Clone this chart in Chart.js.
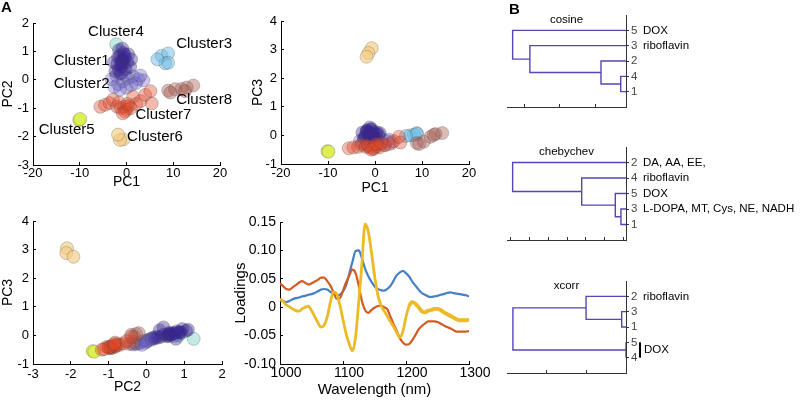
<!DOCTYPE html>
<html>
<head>
<meta charset="utf-8">
<script src="https://cdn.jsdelivr.net/npm/chart.js@4.4.1/dist/chart.umd.min.js"></script>
<style>
  html, body { margin: 0; padding: 0; background: #fff; }
  #fig { position: relative; width: 800px; height: 400px; overflow: hidden; }
  #fig canvas { position: absolute; }
  .tag { position: absolute; font: bold 15px "Liberation Sans", Arial, sans-serif; color: #000; }
</style>
</head>
<body>
<div id="fig">
  <canvas id="pc12" width="235" height="191" style="left:0;top:0"></canvas>
  <canvas id="pc13" width="235" height="197" style="left:250px;top:0"></canvas>
  <canvas id="pc23" width="237" height="206" style="left:0;top:190px"></canvas>
  <canvas id="load" width="259" height="209" style="left:232px;top:190px"></canvas>
  <canvas id="dCos" width="310" height="120" style="left:490px;top:0"></canvas>
  <canvas id="dCheb" width="310" height="123" style="left:490px;top:130px"></canvas>
  <canvas id="dXcorr" width="310" height="124" style="left:490px;top:262px"></canvas>
  <div class="tag" style="left:1px;top:-2px">A</div>
  <div class="tag" style="left:509px;top:0">B</div>
</div>
<script>
// PCA scores, one row per sample: [PC1, PC2, PC3]
const cluster1 = [
  [-1.0, 0.65, 0.02], [-0.8, 0.72, 0.05], [-1.2, 0.58, -0.02], [-0.6, 0.60, 0.04],
  [-1.4, 0.85, 0.10], [-0.4, 0.88, 0.12], [-1.6, 1.05, 0.16], [-0.9, 1.10, 0.20],
  [-2.0, 0.55, -0.03], [0.2, 0.62, 0.05], [-2.4, 0.30, -0.08], [-1.8, 0.80, 0.14],
  [-0.2, 0.38, -0.05], [0.8, 0.45, 0.02], [-2.7, 0.62, 0.10], [-1.3, 0.22, -0.10],
  [-0.7, 0.95, 0.22], [1.0, 0.72, 0.08], [-1.1, 0.45, 0.28], [-0.3, 0.78, -0.12],
  [-1.7, 0.35, 0.18], [0.4, 0.90, 0.10]
];
const cluster2 = [
  [-2.6, -0.25, -0.28], [-1.8, -0.15, -0.22], [-0.8, -0.05, -0.18], [0.3, 0.05, -0.15],
  [1.4, 0.12, -0.12], [2.5, 0.02, -0.20], [3.6, -0.02, -0.26], [-2.2, 0.15, -0.10],
  [-1.0, 0.25, -0.05], [0.0, -0.28, -0.30], [1.0, -0.18, -0.28], [-3.2, 0.02, -0.20],
  [2.0, -0.12, -0.33], [-1.4, -0.35, -0.32], [-0.3, 0.18, -0.08], [3.0, 0.15, -0.15]
];
const cluster3 = [
  [7.5, 0.85, 0.00], [8.9, 0.93, 0.08], [8.3, 0.58, 0.02], [8.9, 0.60, 0.05], [6.6, 0.72, -0.02]
];
const cluster4 = [[-2.2, 1.25, -0.12]];
const cluster5 = [[-10.1, -1.42, -0.55], [-9.9, -1.38, -0.57]];
const cluster6 = [[-0.7, -2.10, 3.05], [-1.4, -2.12, 2.88], [-1.8, -1.93, 2.75]];
const cluster7 = [
  [-5.6, -0.95, -0.45], [-4.6, -0.88, -0.42], [-3.6, -0.82, -0.40], [-2.9, -0.70, -0.33],
  [-2.0, -0.95, -0.40], [-1.2, -1.00, -0.42], [-0.5, -0.95, -0.45], [0.0, -1.05, -0.40],
  [0.5, -0.92, -0.38], [-0.3, -1.12, -0.48], [1.4, -0.60, -0.28], [2.1, -0.85, -0.35],
  [3.0, -0.75, -0.30], [4.0, -0.53, -0.20], [5.4, -0.83, -0.25], [5.1, -0.40, -0.05],
  [-1.6, -0.80, -0.35], [0.9, -1.00, -0.42], [-0.8, -1.18, -0.50], [0.2, -0.85, -0.30]
];
const cluster8 = [
  [8.9, -0.38, -0.27], [10.4, -0.33, -0.22], [11.8, -0.32, -0.05], [12.9, -0.27, 0.05],
  [14.3, -0.20, 0.08], [9.4, -0.45, -0.30], [12.5, -0.40, 0.02]
];

const clusterNames = ['Cluster1', 'Cluster2', 'Cluster3', 'Cluster4', 'Cluster5', 'Cluster6', 'Cluster7', 'Cluster8'];
// label centres in PC1/PC2 units
const clusterTagAt = [[-9.6, 0.66], [-9.6, -0.16], [16.6, 1.25], [-2.25, 1.69], [-12.8, -1.77], [6.1, -2.02], [7.9, -1.24], [16.6, -0.69]];

// loadings
const wavelength = [
  1000, 1005, 1010, 1015, 1020, 1025, 1030, 1035, 1040, 1045, 1050, 1055, 1060, 1065, 1070, 1075,
  1080, 1085, 1090, 1095, 1100, 1105, 1110, 1115, 1120, 1125, 1130, 1135, 1140, 1145, 1150, 1155,
  1160, 1165, 1170, 1175, 1180, 1185, 1190, 1195, 1200, 1205, 1210, 1215, 1220, 1225, 1230, 1235,
  1240, 1245, 1250, 1255, 1260, 1265, 1270, 1275, 1280, 1285, 1290, 1295, 1300
];
const loadPC1 = [
  0.012, 0.011, 0.009, 0.011, 0.014, 0.016, 0.017, 0.019, 0.020, 0.022, 0.023, 0.025, 0.028, 0.031, 0.032, 0.031,
  0.027, 0.023, 0.021, 0.022, 0.028, 0.039, 0.059, 0.080, 0.099, 0.100, 0.086, 0.068, 0.055, 0.045, 0.037, 0.032,
  0.030, 0.029, 0.032, 0.037, 0.046, 0.056, 0.061, 0.064, 0.060, 0.054, 0.045, 0.038, 0.031, 0.025, 0.022, 0.019,
  0.018, 0.019, 0.020, 0.022, 0.023, 0.025, 0.026, 0.025, 0.024, 0.023, 0.022, 0.021, 0.019
];
const loadPC2 = [
  0.042, 0.037, 0.032, 0.031, 0.035, 0.039, 0.043, 0.046, 0.043, 0.040, 0.042, 0.045, 0.048, 0.052, 0.052, 0.046,
  0.038, 0.026, 0.015, 0.016, 0.029, 0.044, 0.056, 0.066, 0.060, 0.038, 0.011, -0.005, -0.010, -0.005, -0.001, 0.002,
  0.003, 0.000, -0.003, -0.016, -0.029, -0.041, -0.054, -0.062, -0.066, -0.065, -0.058, -0.049, -0.039, -0.033, -0.029, -0.025,
  -0.025, -0.025, -0.026, -0.029, -0.032, -0.035, -0.037, -0.040, -0.043, -0.043, -0.043, -0.043, -0.042
];
const loadPC3 = [
  0.015, 0.010, 0.004, 0.001, -0.003, -0.006, -0.007, -0.003, 0.000, 0.002, -0.006, -0.016, -0.027, -0.035, -0.032, -0.017,
  0.009, 0.027, 0.023, 0.004, -0.022, -0.047, -0.065, -0.077, -0.052, 0.010, 0.076, 0.146, 0.134, 0.098, 0.056, 0.023,
  0.004, -0.006, -0.015, -0.025, -0.034, -0.044, -0.053, -0.043, -0.017, 0.002, 0.009, 0.006, 0.000, -0.007, -0.009, -0.006,
  -0.005, -0.003, -0.003, -0.005, -0.009, -0.012, -0.015, -0.018, -0.021, -0.023, -0.023, -0.023, -0.022
];

// dendrograms: leaf order top to bottom, links [a, b, height] (new node ids start at n+1)
const cosineLeaves = [5, 3, 2, 4, 1];
const cosineLinks = [[4, 1, 0.027], [2, 6, 0.083], [3, 7, 0.285], [5, 8, 0.334]];
const cosineNotes = [[5, 'DOX'], [3, 'riboflavin']];

const chebLeaves = [2, 4, 5, 3, 1];
const chebLinks = [[3, 1, 0.113], [5, 6, 0.143], [4, 7, 0.322], [2, 8, 0.690]];
const chebNotes = [[2, 'DA, AA, EE,'], [4, 'riboflavin'], [5, 'DOX'], [3, 'L-DOPA, MT, Cys, NE, NADH']];

const xcorrLeaves = [2, 3, 1, 5, 4];
const xcorrLinks = [[3, 1, 0.054], [2, 6, 0.5], [5, 4, 0], [7, 8, 1.416]];
const xcorrNotes = [[2, 'riboflavin'], [[5, 4], 'DOX']];

Chart.defaults.font.family = '"Liberation Sans", Arial, Helvetica, sans-serif';
Chart.defaults.font.size = 13;
Chart.defaults.color = '#000';
Chart.defaults.animation = false;
Chart.defaults.events = [];
Chart.defaults.plugins.legend.display = false;
Chart.defaults.plugins.tooltip.enabled = false;

const clusters = [cluster1, cluster2, cluster3, cluster4, cluster5, cluster6, cluster7, cluster8];
const clusterFill = [
  'rgba(55,35,150,0.38)', 'rgba(105,95,200,0.35)', 'rgba(110,190,230,0.5)', 'rgba(175,228,222,0.75)',
  'rgba(222,240,80,0.9)', 'rgba(245,205,130,0.65)', 'rgba(225,70,40,0.38)', 'rgba(170,95,85,0.42)'
];
// index 0 is painted last
const drawOrder = [6, 7, 0, 1, 2, 3, 4, 5];

function numAxis(o) {
  return {
    type: 'linear',
    min: o.min,
    max: o.max,
    border: { display: true, color: '#000', width: 1 },
    grid: { drawOnChartArea: false, tickLength: -3, color: '#000' },
    ticks: {
      stepSize: o.step, padding: o.pad, font: { size: o.size || 13 }, labelOffset: o.shift || 0,
      format: { useGrouping: false }
    },
    title: { display: true, text: o.title, padding: 0, font: { size: o.titleSize || 14 } },
    afterFit(scale) {
      if (o.width) scale.width = o.width;
      if (o.height) scale.height = o.height;
    }
  };
}

const clusterTags = {
  id: 'clusterTags',
  afterDatasetsDraw(chart) {
    const { ctx, scales: { x, y } } = chart;
    ctx.save();
    ctx.font = '15px "Liberation Sans", Arial, sans-serif';
    ctx.fillStyle = '#000';
    ctx.textAlign = 'center';
    ctx.textBaseline = 'middle';
    clusterNames.forEach((name, k) => {
      const at = clusterTagAt[k];
      ctx.fillText(name, x.getPixelForValue(at[0]), y.getPixelForValue(at[1]));
    });
    ctx.restore();
  }
};

function scatterPanel(id, xi, yi, pad, xAxis, yAxis, extra) {
  return new Chart(document.getElementById(id), {
    type: 'scatter',
    data: {
      datasets: drawOrder.map(k => ({
        data: clusters[k].map(p => ({ x: p[xi], y: p[yi] })),
        backgroundColor: clusterFill[k],
        borderColor: 'rgba(70,70,70,0.35)',
        borderWidth: 0.8,
        pointRadius: 6.5
      }))
    },
    options: {
      responsive: false,
      layout: { padding: pad },
      scales: { x: xAxis, y: yAxis }
    },
    plugins: extra || []
  });
}

scatterPanel('pc12', 0, 1, { left: 0, top: 23, right: 15, bottom: 0 },
  numAxis({ min: -20, max: 20, step: 10, pad: 4, title: 'PC1', height: 26 }),
  numAxis({ min: -3, max: 2, step: 1, pad: 7, title: 'PC2', width: 33 }),
  [clusterTags]);

scatterPanel('pc13', 0, 2, { left: 0, top: 21, right: 16, bottom: 0 },
  numAxis({ min: -20, max: 20, step: 10, pad: 5, title: 'PC1', height: 33 }),
  numAxis({ min: -1, max: 4, step: 1, pad: 7, title: 'PC3', width: 31 }));

scatterPanel('pc23', 1, 2, { left: 0, top: 31, right: 15, bottom: 0 },
  numAxis({ min: -3, max: 2, step: 1, pad: 6, title: 'PC2', height: 32 }),
  numAxis({ min: -1, max: 4, step: 1, pad: 7, title: 'PC3', width: 33 }));

const toXY = vals => wavelength.map((w, i) => ({ x: w, y: vals[i] }));
new Chart(document.getElementById('load'), {
  type: 'line',
  data: {
    datasets: [
      { data: toXY(loadPC3), borderColor: 'rgb(236,186,38)', borderWidth: 2.8,
        segment: { borderWidth: c => (c.p0.parsed.x >= 1205 ? 3.8 : 2.8) } },
      { data: toXY(loadPC2), borderColor: 'rgb(214,90,32)', borderWidth: 2.2 },
      { data: toXY(loadPC1), borderColor: 'rgb(70,128,196)', borderWidth: 2.2 }
    ]
  },
  options: {
    responsive: false,
    layout: { padding: { left: 0, top: 32, right: 22, bottom: 0 } },
    elements: { point: { radius: 0 }, line: { cubicInterpolationMode: 'monotone', fill: false } },
    scales: {
      x: numAxis({ min: 1000, max: 1300, step: 100, pad: 4, size: 14, shift: 6, title: 'Wavelength (nm)', titleSize: 15, height: 35 }),
      y: numAxis({ min: -0.1, max: 0.15, step: 0.05, pad: 7, size: 14, title: 'Loadings', titleSize: 15, width: 48 })
    }
  }
});

const dendroColor = 'rgb(88,68,182)';

function treeSegments(leaves, links, base) {
  const n = leaves.length;
  const pos = {}, height = {};
  leaves.forEach((id, i) => { pos[id] = n - i; height[id] = base; });
  return links.map(([a, b, h], k) => {
    const id = n + 1 + k;
    const seg = [
      { x: height[a], y: pos[a] }, { x: h, y: pos[a] },
      { x: h, y: pos[b] }, { x: height[b], y: pos[b] }
    ];
    pos[id] = (pos[a] + pos[b]) / 2;
    height[id] = Math.max(h, base);
    return seg;
  });
}

const dendroNotes = {
  id: 'dendroNotes',
  afterDraw(chart, args, o) {
    const { ctx, chartArea: a, scales: { y } } = chart;
    const n = o.leaves.length;
    const posOf = id => n - o.leaves.indexOf(id);
    ctx.save();
    ctx.font = '11.5px "Liberation Sans", Arial, sans-serif';
    ctx.fillStyle = '#000';
    ctx.textBaseline = 'middle';
    ctx.textAlign = 'center';
    ctx.fillText(o.name, (a.left + a.right) / 2, a.top + 4.5);
    ctx.textAlign = 'left';
    o.notes.forEach(([who, text]) => {
      if (Array.isArray(who)) {
        const y1 = y.getPixelForValue(posOf(who[0]));
        const y2 = y.getPixelForValue(posOf(who[1]));
        ctx.fillRect(a.right + 13, Math.min(y1, y2), 2, Math.abs(y2 - y1));
        ctx.fillText(text, a.right + 18, (y1 + y2) / 2);
      } else {
        ctx.fillText(text, a.right + 17, y.getPixelForValue(posOf(who)));
      }
    });
    ctx.restore();
  }
};

function dendrogram(id, name, leaves, links, notes, xMin, xMax, xTicks, top) {
  const n = leaves.length;
  return new Chart(document.getElementById(id), {
    type: 'scatter',
    data: {
      datasets: treeSegments(leaves, links, xMin).map(seg => ({
        data: seg, showLine: true, borderColor: dendroColor, borderWidth: 1.4, pointRadius: 0, tension: 0
      }))
    },
    options: {
      responsive: false,
      layout: { padding: { left: 17, top: top, right: 154, bottom: 10 } },
      scales: {
        x: {
          type: 'linear', position: 'bottom', reverse: true, min: xMin, max: xMax,
          border: { display: true, color: '#333', width: 1 },
          grid: { drawOnChartArea: false, tickLength: -3, color: '#333' },
          ticks: { display: false },
          afterBuildTicks(s) { s.ticks = xTicks.map(v => ({ value: v })); },
          afterFit(s) { s.height = 3; }
        },
        y: {
          type: 'linear', position: 'right', min: 0, max: n + 1,
          border: { display: true, color: '#333', width: 1 },
          grid: { drawOnChartArea: false, tickLength: 3, color: '#333' },
          ticks: { padding: 2, color: '#444', font: { size: 11.5 }, callback: v => String(leaves[n - v]) },
          afterBuildTicks(s) { s.ticks = leaves.map((_, i) => ({ value: i + 1 })); },
          afterFit(s) { s.width = 20; }
        }
      },
      plugins: { dendroNotes: { name, notes, leaves } }
    },
    plugins: [dendroNotes]
  });
}

dendrogram('dCos', 'cosine', cosineLeaves, cosineLinks, cosineNotes, 0.012, 0.35, [0.1, 0.2, 0.3], 15);
dendrogram('dCheb', 'chebychev', chebLeaves, chebLinks, chebNotes, 0.086, 0.72, [0.1, 0.2, 0.3, 0.4, 0.5, 0.6, 0.7], 17);
dendrogram('dXcorr', 'xcorr', xcorrLeaves, xcorrLinks, xcorrNotes, 0, 1.49, [0, 0.5, 1.0], 19);
</script>
</body>
</html>
